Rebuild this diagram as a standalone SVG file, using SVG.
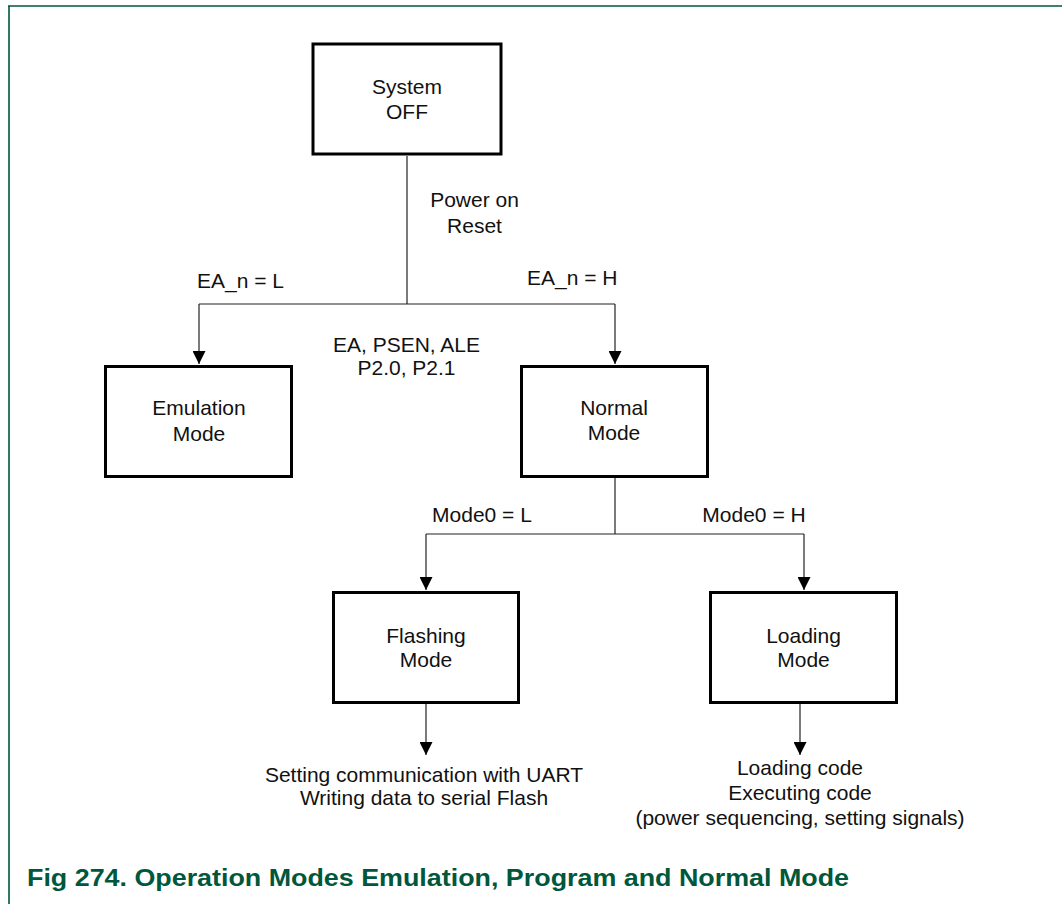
<svg xmlns="http://www.w3.org/2000/svg" width="1062" height="904" viewBox="0 0 1062 904">
  <style>
    .frame { stroke: #00573c; stroke-width: 1.6; fill: none; }
    .box { fill: #ffffff; stroke: #000000; stroke-width: 3; }
    .wire { fill: none; stroke: #222222; stroke-width: 1.2; }
    .lbl { font-family: "Liberation Sans", Arial, sans-serif; font-size: 21px; fill: #111111; text-anchor: middle; }
    .lbl-start { text-anchor: start; }
    .caption { font-family: "Liberation Sans", Arial, sans-serif; font-size: 24px; font-weight: bold; fill: #00573c; }
  </style>
  <defs>
    <marker id="arrow" markerUnits="userSpaceOnUse" markerWidth="13" markerHeight="13" refX="13" refY="6.5" orient="auto">
      <path d="M0,0 L13,6.5 L0,13 Z" fill="#000000"/>
    </marker>
  </defs>

  <rect width="1062" height="904" fill="#ffffff"/>

  <!-- page frame -->
  <g id="frame">
    <line class="frame" x1="8" y1="6" x2="1062" y2="6"/>
    <line class="frame" x1="9" y1="6" x2="9" y2="904"/>
  </g>

  <!-- connectors -->
  <g id="connectors">
    <line class="wire" x1="407" y1="156" x2="407" y2="304"/>
    <line class="wire" x1="199" y1="304" x2="615" y2="304"/>
    <line class="wire" x1="199" y1="304" x2="199" y2="364" marker-end="url(#arrow)"/>
    <line class="wire" x1="615" y1="304" x2="615" y2="364" marker-end="url(#arrow)"/>
    <line class="wire" x1="615" y1="478" x2="615" y2="534"/>
    <line class="wire" x1="426" y1="534" x2="804" y2="534"/>
    <line class="wire" x1="426" y1="534" x2="426" y2="590" marker-end="url(#arrow)"/>
    <line class="wire" x1="804" y1="534" x2="804" y2="590" marker-end="url(#arrow)"/>
    <line class="wire" x1="426" y1="704" x2="426" y2="755" marker-end="url(#arrow)"/>
    <line class="wire" x1="800" y1="704" x2="800" y2="755" marker-end="url(#arrow)"/>

    <text class="lbl" x="474.5" y="207">Power on</text>
    <text class="lbl" x="474.5" y="233">Reset</text>
    <text class="lbl lbl-start" x="197" y="288">EA_n = L</text>
    <text class="lbl lbl-start" x="527" y="285">EA_n = H</text>
    <text class="lbl" x="406.5" y="352">EA, PSEN, ALE</text>
    <text class="lbl" x="406.5" y="375">P2.0, P2.1</text>
    <text class="lbl" x="482" y="522">Mode0 = L</text>
    <text class="lbl" x="754" y="522">Mode0 = H</text>
  </g>

  <!-- states -->
  <g id="system-off">
    <rect class="box" x="313" y="44" width="188" height="110"/>
    <text class="lbl" x="407" y="94">System</text>
    <text class="lbl" x="407" y="119">OFF</text>
  </g>

  <g id="emulation-mode">
    <rect class="box" x="105.5" y="366.5" width="186" height="110"/>
    <text class="lbl" x="199" y="415">Emulation</text>
    <text class="lbl" x="199" y="441">Mode</text>
  </g>

  <g id="normal-mode">
    <rect class="box" x="521.5" y="366.5" width="186" height="110"/>
    <text class="lbl" x="614" y="415">Normal</text>
    <text class="lbl" x="614" y="440">Mode</text>
  </g>

  <g id="flashing-mode">
    <rect class="box" x="333.5" y="592.5" width="185" height="110"/>
    <text class="lbl" x="426" y="643">Flashing</text>
    <text class="lbl" x="426" y="667">Mode</text>
  </g>

  <g id="loading-mode">
    <rect class="box" x="710.5" y="592.5" width="186" height="110"/>
    <text class="lbl" x="803.5" y="643">Loading</text>
    <text class="lbl" x="803.5" y="667">Mode</text>
  </g>

  <!-- outcomes -->
  <g id="flashing-result">
    <text class="lbl" x="424" y="782">Setting communication with UART</text>
    <text class="lbl" x="424" y="805">Writing data to serial Flash</text>
  </g>

  <g id="loading-result">
    <text class="lbl" x="800" y="775">Loading code</text>
    <text class="lbl" x="800" y="800">Executing code</text>
    <text class="lbl" x="800" y="825">(power sequencing, setting signals)</text>
  </g>

  <!-- caption -->
  <g id="caption">
    <text class="caption" x="27" y="886" textLength="822" lengthAdjust="spacingAndGlyphs">Fig 274. Operation Modes Emulation, Program and Normal Mode</text>
  </g>
</svg>
